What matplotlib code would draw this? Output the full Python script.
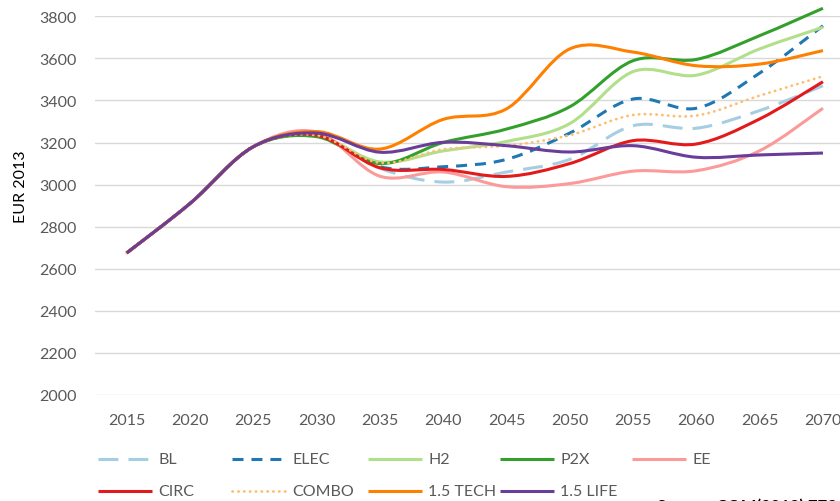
import matplotlib
matplotlib.use("Agg")
import matplotlib.pyplot as plt
import numpy as np
from matplotlib.path import Path
from matplotlib.patches import PathPatch
from matplotlib.lines import Line2D

plt.rcParams["font.family"] = ["Lato", "DejaVu Sans"]

years = [2015, 2020, 2025, 2030, 2035, 2040, 2045, 2050, 2055, 2060, 2065, 2070]
start = [2675, 2910, 3180]

BL = start + [3235, 3078, 3012, 3060, 3120, 3280, 3268, 3352, 3470]
ELEC = start + [3235, 3085, 3085, 3120, 3245, 3407, 3363, 3530, 3755]
H2 = start + [3232, 3108, 3160, 3205, 3290, 3537, 3520, 3645, 3748]
P2X = start + [3228, 3100, 3200, 3264, 3370, 3589, 3595, 3708, 3838]
EE = start + [3250, 3040, 3060, 2990, 3005, 3064, 3066, 3161, 3363]
CIRC = start + [3235, 3080, 3072, 3039, 3100, 3209, 3193, 3312, 3489]
COMBO = start + [3235, 3104, 3168, 3185, 3235, 3331, 3328, 3423, 3515]
TECH15 = start + [3252, 3169, 3310, 3360, 3645, 3630, 3565, 3573, 3637]
LIFE15 = start + [3245, 3154, 3201, 3185, 3155, 3185, 3130, 3141, 3150]

series = [
    ("BL", BL, "#a6cee3", (0, (6.5, 3.3)), 2.2, "butt"),
    ("ELEC", ELEC, "#1f78b4", (0, (3.6, 2.6)), 2.2, "butt"),
    ("H2", H2, "#b2df8a", "solid", 2.2, "butt"),
    ("P2X", P2X, "#33a02c", "solid", 2.2, "butt"),
    ("EE", EE, "#fb9a99", "solid", 2.2, "butt"),
    ("CIRC", CIRC, "#e31a1c", "solid", 2.2, "butt"),
    ("COMBO", COMBO, "#fdbf6f", (0, (0.1, 2.0)), 2.0, "round"),
    ("1.5 TECH", TECH15, "#ff7f00", "solid", 2.2, "butt"),
    ("1.5 LIFE", LIFE15, "#6a3d9a", "solid", 2.2, "butt"),
]

ytick_vals = list(range(2000, 3801, 200))

W, H = 840, 502
fig = plt.figure(figsize=(W / 100, H / 100), dpi=100)
ax_left, ax_right, ax_top, ax_bot = 95, 854.6, 17.3, 396
ax = fig.add_axes([ax_left / W, (H - ax_bot) / H, (ax_right - ax_left) / W, (ax_bot - ax_top) / H])

x = np.arange(len(years), dtype=float)


def smooth_path(xs, ys):
    pts = np.column_stack([xs, ys]).astype(float)
    n = len(pts)
    verts = [pts[0]]
    codes = [Path.MOVETO]
    for i in range(n - 1):
        p0 = pts[i - 1] if i > 0 else pts[i]
        p1 = pts[i]
        p2 = pts[i + 1]
        p3 = pts[i + 2] if i + 2 < n else pts[i + 1]
        c1 = p1 + (p2 - p0) / 6.0
        c2 = p2 - (p3 - p1) / 6.0
        verts += [c1, c2, p2]
        codes += [Path.CURVE4] * 3
    return Path(np.array(verts), codes)


for name, vals, col, ls, lw, cap in series:
    p = smooth_path(x, vals)
    patch = PathPatch(p, fill=False, edgecolor=col, linewidth=lw, linestyle=ls,
                      capstyle=cap, joinstyle="round", clip_on=False, zorder=3)
    ax.add_patch(patch)

ax.set_xlim(-0.5, len(years) - 0.5)
ax.set_ylim(2000, 3800)
ax.set_yticks(ytick_vals)
ax.set_yticklabels([str(v) for v in ytick_vals])
ax.set_xticks(x)
ax.set_xticklabels([str(y) for y in years])
for s in ax.spines.values():
    s.set_visible(False)
ax.grid(axis="y", color="#d9d9d9", linewidth=1.0, zorder=0)
ax.grid(axis="x", visible=False)
ax.set_axisbelow(True)
ax.tick_params(axis="both", length=0, labelsize=11.5, labelcolor="#595959")
ax.tick_params(axis="y", pad=13)
ax.tick_params(axis="x", pad=13)
ax.set_ylabel("EUR 2013", fontsize=11.5, color="#000000")
ax.yaxis.set_label_coords(-0.088, 0.552)

# legend (manual, two rows x five columns)
leg_starts = [98, 232, 368, 500, 632]
rows_y = [460, 492]
for k, (name, vals, col, ls, lw, cap) in enumerate(series):
    r, c = divmod(k, 5)
    x0 = leg_starts[c]
    yy = 1 - rows_y[r] / H
    ln = Line2D([x0 / W, (x0 + 54) / W], [yy, yy], transform=fig.transFigure,
                color=col, linewidth=lw, linestyle=ls, dash_capstyle=cap,
                solid_capstyle="butt")
    fig.add_artist(ln)
    fig.text((x0 + 60) / W, yy, name, fontsize=11.5, color="#595959",
             va="center", ha="left")

fig.text(657 / W, 1 - 499 / H, "Source: COM(2018) 773", fontsize=12,
         color="#000000", va="top", ha="left", fontweight="bold")

fig.savefig("out.png", dpi=100)
